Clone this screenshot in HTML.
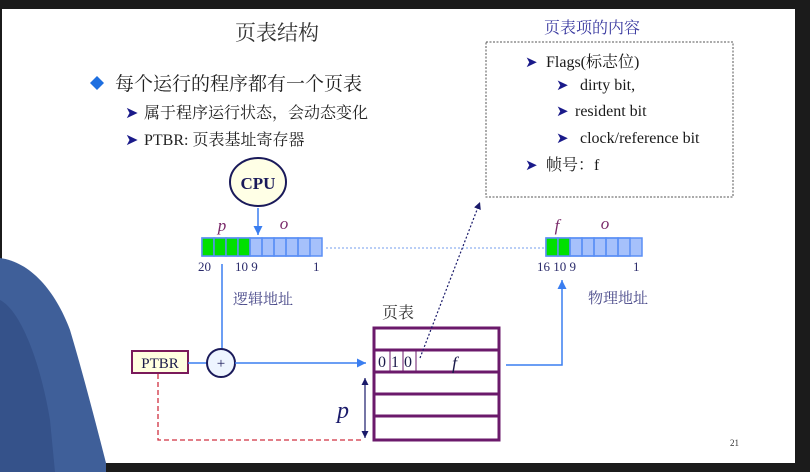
<!DOCTYPE html>
<html><head><meta charset="utf-8"><style>
html,body{margin:0;padding:0;background:#1b1b1b}
svg{display:block}
text{font-family:"Liberation Serif","Noto Serif CJK SC",serif}
</style></head><body>
<svg width="810" height="472" viewBox="0 0 810 472" xmlns="http://www.w3.org/2000/svg">
<defs>
<marker id="ab" markerWidth="8" markerHeight="8" refX="6" refY="3" orient="auto"><path d="M0,0 L6,3 L0,6 z" fill="#3a7ef0"/></marker>
<marker id="an" markerWidth="8" markerHeight="8" refX="6" refY="3" orient="auto-start-reverse"><path d="M0,0 L6,3 L0,6 z" fill="#1a1a6a"/></marker>
</defs>
<rect x="0" y="0" width="810" height="472" fill="#1b1b1b"/>
<rect x="2" y="9" width="793" height="454" fill="#ffffff"/>
<!-- person -->
<path d="M0,258 C30,262 55,290 70,330 C82,370 95,420 106,463 L106,472 L0,472 Z" fill="#3f5f99"/>
<path d="M0,300 C20,310 40,360 50,420 L55,472 L0,472 Z" fill="#35528a"/>
<!-- title -->
<text x="277" y="40" font-size="21" fill="#333" text-anchor="middle">页表结构</text>
<path d="M97,76 L104,83 L97,90 L90,83 Z" fill="#1e6fe0"/>
<text x="115" y="90" font-size="19" fill="#222">每个运行的程序都有一个页表</text>
<text x="125" y="118" font-size="16" fill="#1a1a8a">➤</text>
<text x="144" y="118" font-size="16" fill="#222">属于程序运行状态，会动态变化</text>
<text x="125" y="145" font-size="16" fill="#1a1a8a">➤</text>
<text x="144" y="145" font-size="16" fill="#222">PTBR: 页表基址寄存器</text>
<!-- CPU -->
<ellipse cx="258" cy="182" rx="28" ry="24" fill="#ffffe6" stroke="#1a1a5a" stroke-width="2"/>
<text x="258" y="189" font-size="17" font-weight="bold" fill="#1a1a5a" text-anchor="middle">CPU</text>
<line x1="258" y1="208" x2="258" y2="235" stroke="#3a7ef0" stroke-width="1.5" marker-end="url(#ab)"/>
<!-- logical bar -->
<g stroke="#5b8ff5" stroke-width="1.5">
<rect x="202" y="238" width="120" height="18" fill="#a6c1fb"/>
<rect x="202" y="238" width="12" height="18" fill="#00e000"/>
<rect x="214" y="238" width="12" height="18" fill="#00e000"/>
<rect x="226" y="238" width="12" height="18" fill="#00e000"/>
<rect x="238" y="238" width="12" height="18" fill="#00e000"/>
<rect x="250" y="238" width="12" height="18" fill="none"/>
<rect x="262" y="238" width="12" height="18" fill="none"/>
<rect x="274" y="238" width="12" height="18" fill="none"/>
<rect x="286" y="238" width="12" height="18" fill="none"/>
<rect x="298" y="238" width="12" height="18" fill="none"/>
</g>
<text x="222" y="231" font-size="17" font-style="italic" fill="#7a2a6a" text-anchor="middle">p</text>
<text x="284" y="229" font-size="17" font-style="italic" fill="#7a2a6a" text-anchor="middle">o</text>
<g font-size="13" fill="#2a2a6a"><text x="198" y="271">20</text><text x="235" y="271">10 9</text><text x="313" y="271">1</text></g>
<line x1="326" y1="248" x2="546" y2="248" stroke="#8fb0f0" stroke-width="1.2" stroke-dasharray="2,2"/>
<line x1="222" y1="264" x2="222" y2="349" stroke="#3a7ef0" stroke-width="1.5"/>
<text x="233" y="304" font-size="15" fill="#4a4a8a">逻辑地址</text>
<!-- PTBR and plus -->
<rect x="132" y="351" width="56" height="22" fill="#ffffe0" stroke="#7a1a5a" stroke-width="2"/>
<text x="160" y="368" font-size="15" fill="#1a1a4a" text-anchor="middle">PTBR</text>
<line x1="188" y1="363" x2="207" y2="363" stroke="#3a7ef0" stroke-width="1.5"/>
<circle cx="221" cy="363" r="14" fill="#eef5ff" stroke="#1a1a5a" stroke-width="2"/>
<text x="221" y="368" font-size="15" fill="#1a1a5a" text-anchor="middle">+</text>
<line x1="235" y1="363" x2="366" y2="363" stroke="#3a7ef0" stroke-width="1.5" marker-end="url(#ab)"/>
<polyline points="158,374 158,440 362,440" fill="none" stroke="#d03040" stroke-width="1.3" stroke-dasharray="5,3"/>
<line x1="365" y1="378" x2="365" y2="438" stroke="#1a1a6a" stroke-width="1.2" marker-start="url(#an)" marker-end="url(#an)"/>
<text x="343" y="418" font-size="24" font-style="italic" fill="#1a1a6a" text-anchor="middle">p</text>
<!-- page table -->
<text x="382" y="318" font-size="16" fill="#333">页表</text>
<g fill="none" stroke="#6b1a6b" stroke-width="3">
<rect x="374" y="328" width="125" height="112"/>
<line x1="374" y1="350" x2="499" y2="350"/>
<line x1="374" y1="372" x2="499" y2="372"/>
<line x1="374" y1="394" x2="499" y2="394"/>
<line x1="374" y1="416" x2="499" y2="416"/>
</g>
<g stroke="#6b1a6b" stroke-width="1"><line x1="390" y1="351" x2="390" y2="371"/><line x1="403" y1="351" x2="403" y2="371"/><line x1="416" y1="351" x2="416" y2="371"/></g>
<g font-size="16" fill="#1a1a4a"><text x="378" y="367">0</text><text x="391" y="367">1</text><text x="404" y="367">0</text></g>
<text x="452" y="369" font-size="18" font-style="italic" fill="#1a1a4a">f</text>
<line x1="420" y1="358" x2="480" y2="202" stroke="#1a1a6a" stroke-width="1.2" stroke-dasharray="2,2" marker-end="url(#an)"/>
<polyline points="506,365 562,365 562,280" fill="none" stroke="#3a7ef0" stroke-width="1.5" marker-end="url(#ab)"/>
<!-- physical bar -->
<g stroke="#5b8ff5" stroke-width="1.5">
<rect x="546" y="238" width="96" height="18" fill="#a6c1fb"/>
<rect x="546" y="238" width="12" height="18" fill="#00e000"/>
<rect x="558" y="238" width="12" height="18" fill="#00e000"/>
<rect x="570" y="238" width="12" height="18" fill="none"/>
<rect x="582" y="238" width="12" height="18" fill="none"/>
<rect x="594" y="238" width="12" height="18" fill="none"/>
<rect x="606" y="238" width="12" height="18" fill="none"/>
<rect x="618" y="238" width="12" height="18" fill="none"/>
</g>
<text x="557" y="231" font-size="17" font-style="italic" fill="#7a2a6a" text-anchor="middle">f</text>
<text x="605" y="229" font-size="17" font-style="italic" fill="#7a2a6a" text-anchor="middle">o</text>
<g font-size="13" fill="#2a2a6a"><text x="537" y="271">16 10 9</text><text x="633" y="271">1</text></g>
<text x="588" y="303" font-size="15" fill="#4a4a8a">物理地址</text>
<!-- content box -->
<text x="544" y="33" font-size="16" fill="#3a3aa0">页表项的内容</text>
<rect x="486" y="42" width="247" height="155" fill="none" stroke="#555" stroke-width="1" stroke-dasharray="2,1.5"/>
<g font-size="16" fill="#1a1a1a">
<text x="525" y="67" font-size="15" fill="#1a1a8a">➤</text><text x="546" y="67">Flags(标志位)</text>
<text x="556" y="90" font-size="15" fill="#1a1a8a">➤</text><text x="580" y="90">dirty bit,</text>
<text x="556" y="116" font-size="15" fill="#1a1a8a">➤</text><text x="575" y="116">resident bit</text>
<text x="556" y="143" font-size="15" fill="#1a1a8a">➤</text><text x="580" y="143">clock/reference bit</text>
<text x="525" y="170" font-size="15" fill="#1a1a8a">➤</text><text x="546" y="170">帧号：f</text>
</g>
<text x="730" y="446" font-size="9" fill="#333">21</text>
</svg>
</body></html>
